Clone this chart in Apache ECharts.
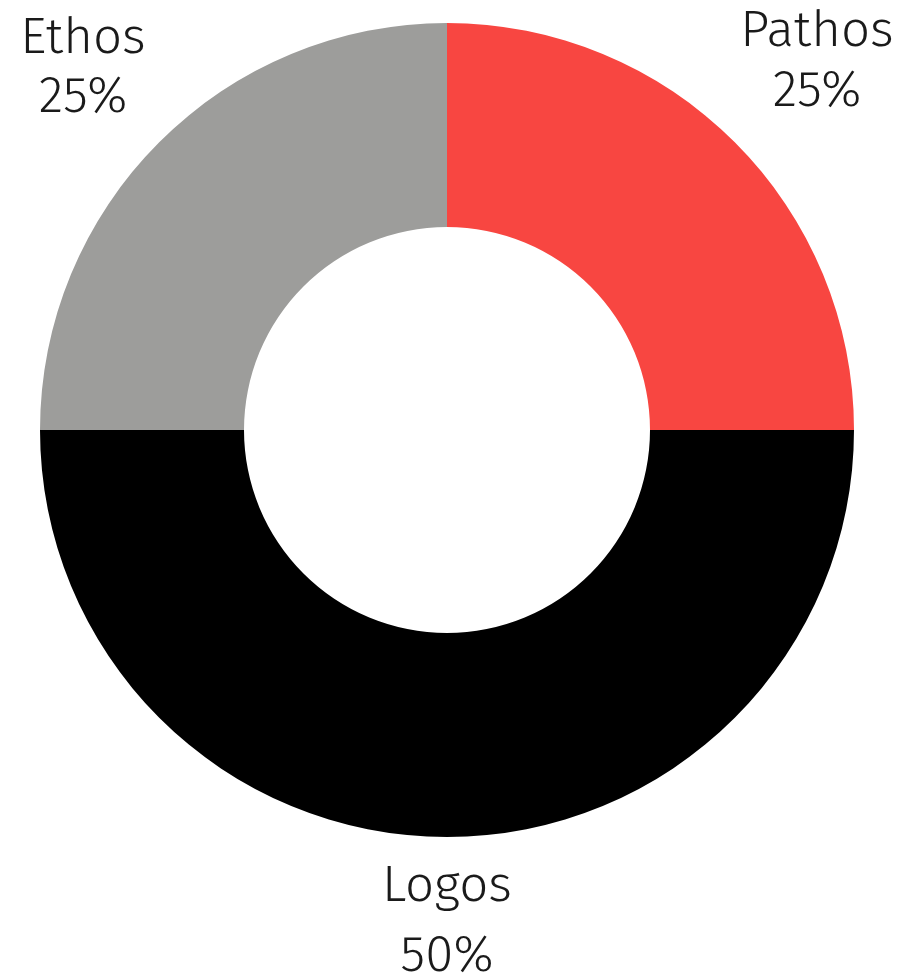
<!DOCTYPE html>
<html>
<head>
<meta charset="utf-8">
<script src="https://cdn.jsdelivr.net/npm/echarts@6/dist/echarts.min.js"></script>
<style>html,body{margin:0;padding:0;background:#fff}#chart{width:904px;height:980px}</style>
</head>
<body>
<div id="chart"></div>
<script>
const categories = ['Pathos', 'Logos', 'Ethos'];
const values = [25, 50, 25];
const colors = ['#F84641', '#000000', '#9D9D9B'];

// label placement (style only)
const labelPos = [
  { x: 817, y: 62, lh: 60 },
  { x: 447, y: 922, lh: 70 },
  { x: 83, y: 68, lh: 59 }
];

const chart = echarts.init(document.getElementById('chart'), null, { renderer: 'canvas' });
chart.setOption({
  animation: false,
  series: [{
    type: 'pie',
    center: [447, 430],
    radius: [203, 407],
    startAngle: 90,
    clockwise: true,
    avoidLabelOverlap: false,
    emphasis: { disabled: true },
    label: {
      show: true,
      position: 'outside',
      formatter: '{b}\n{d}%',
      fontFamily: '"Fira Sans", "Open Sans", sans-serif',
      fontWeight: 300,
      fontSize: 51,
      color: '#1a1a1a',
      align: 'center'
    },
    labelLine: { show: false },
    labelLayout: function (p) {
      const pos = labelPos[p.dataIndex];
      return { x: pos.x, y: pos.y, align: 'center', verticalAlign: 'middle' };
    },
    data: categories.map((c, i) => ({
      name: c,
      value: values[i],
      itemStyle: { color: colors[i] },
      label: { lineHeight: labelPos[i].lh }
    }))
  }]
});
</script>
</body>
</html>
